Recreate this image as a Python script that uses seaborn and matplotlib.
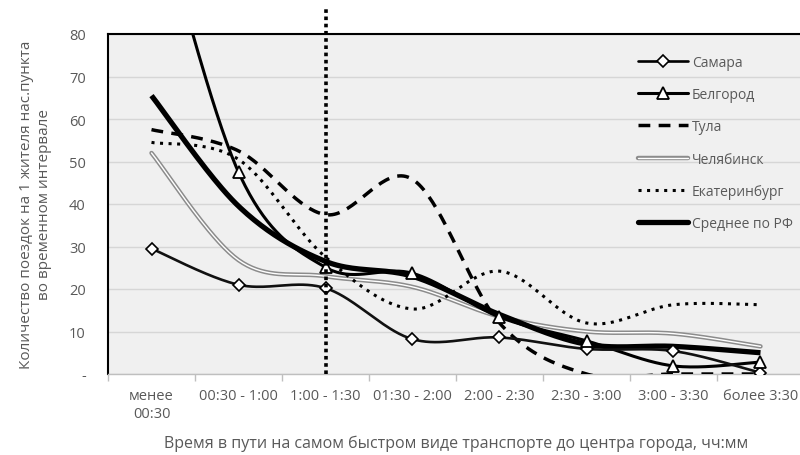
import numpy as np
import pandas as pd
import matplotlib
matplotlib.use("Agg")
import matplotlib.pyplot as plt
import matplotlib.patheffects as pe
from matplotlib.lines import Line2D
import seaborn as sns

categories = ["менее\n00:30", "00:30 - 1:00", "1:00 - 1:30", "01:30 - 2:00",
              "2:00 - 2:30", "2:30 - 3:00", "3:00 - 3:30", "более 3:30"]
samara = [29.5, 21.0, 20.2, 8.2, 8.6, 5.9, 5.4, 0.3]
belgorod = [115.0, 47.5, 25.1, 23.7, 13.4, 7.8, 1.9, 2.8]
tula = [57.5, 52.5, 37.5, 45.8, 12.0, 0.0, 0.0, 0.0]
chelyabinsk = [52.0, 26.8, 23.0, 20.5, 13.5, 10.0, 9.5, 6.5]
ekb = [54.5, 50.5, 27.5, 15.3, 24.2, 12.0, 16.3, 16.3]
mean_rf = [65.5, 39.5, 26.5, 23.0, 14.0, 7.0, 6.5, 5.0]
yticks = [0, 10, 20, 30, 40, 50, 60, 70, 80]
ytick_labels = ["-", "10", "20", "30", "40", "50", "60", "70", "80"]


def smooth(y, n=40):
    """Excel-style smoothed line (Catmull-Rom Bezier) through the points."""
    x = np.arange(len(y), dtype=float)
    P = np.column_stack([x, np.asarray(y, float)])
    xs, ys = [], []
    for i in range(len(P) - 1):
        p0 = P[i - 1] if i > 0 else P[i]
        p1, p2 = P[i], P[i + 1]
        p3 = P[i + 2] if i + 2 < len(P) else P[i + 1]
        c1 = p1 + (p2 - p0) / 6.0
        c2 = p2 - (p3 - p1) / 6.0
        t = np.linspace(0, 1, n)[:, None]
        B = ((1 - t) ** 3) * p1 + 3 * ((1 - t) ** 2) * t * c1 + 3 * (1 - t) * t ** 2 * c2 + t ** 3 * p2
        xs.append(B[:, 0]); ys.append(B[:, 1])
    return np.concatenate(xs), np.concatenate(ys)


sns.set_theme(style="white")
plt.rcParams['font.family'] = ['Open Sans', 'DejaVu Sans']
grey_txt = "#595959"

fig = plt.figure(figsize=(8, 4.56), dpi=100)
ax = fig.add_axes([108 / 800, 1 - 375 / 456, 696 / 800, 340 / 456])
ax.set_facecolor("#f0f0f0")

def draw(vals, **kw):
    xs, ys = smooth(vals)
    df = pd.DataFrame({"x": xs, "y": ys})
    sns.lineplot(data=df, x="x", y="y", ax=ax, sort=False, estimator=None, **kw)

# Челябинск (double grey line)
draw(chelyabinsk, color="white", lw=1.0,
     path_effects=[pe.Stroke(linewidth=3.2, foreground="#8c8c8c"), pe.Normal()], zorder=3)
# Тула dashed
draw(tula, color="black", lw=2.5, linestyle=(0, (3.4, 2.4)), zorder=3)
# Екатеринбург dotted
draw(ekb, color="black", lw=2.2, linestyle=(0, (1, 1.8)), zorder=3)
# Среднее по РФ
draw(mean_rf, color="black", lw=3.8, zorder=4, solid_capstyle="butt")
# Белгород
draw(belgorod, color="black", lw=2.2, zorder=5)
# Самара
draw(samara, color="#111111", lw=1.9, zorder=5)

xc = np.arange(len(categories))
ax.plot(xc, samara, linestyle="none", marker="D", markersize=6.5, markerfacecolor="white",
        markeredgecolor="black", markeredgewidth=1.2, zorder=6)
ax.plot(xc, belgorod, linestyle="none", marker="^", markersize=8.5, markerfacecolor="white",
        markeredgecolor="black", markeredgewidth=1.3, zorder=6)

# vertical dotted marker line
ax.axvline(2, ymin=0, ymax=(375 - 8) / 340, color="black", lw=2.6,
           linestyle=(0, (1, 1)), clip_on=False, zorder=7)

ax.set_xlim(-0.5, 7.5)
ax.set_ylim(0, 80)
ax.set_yticks(yticks)
ax.set_yticklabels(ytick_labels)
ax.set_xticks(xc)
ax.set_xticklabels(categories)
ax.set_xticks(np.arange(-0.5, 8, 1), minor=True)
ax.grid(axis="y", color="#d6d6d6", lw=1.0)
ax.set_axisbelow(True)
ax.tick_params(axis="y", length=0, pad=16, labelsize=10.5, labelcolor=grey_txt)
ax.tick_params(axis="x", which="major", length=0, pad=10, labelsize=10.5, labelcolor=grey_txt)
ax.tick_params(axis="x", which="minor", length=5, width=1, color="#bfbfbf", bottom=True)
for lbl in ax.get_xticklabels():
    lbl.set_linespacing(1.25)

for s in ["left", "top"]:
    ax.spines[s].set_color("black"); ax.spines[s].set_linewidth(1.5)
ax.spines["bottom"].set_color("#bfbfbf"); ax.spines["bottom"].set_linewidth(1)
ax.spines["right"].set_visible(False)

ax.set_xlabel("Время в пути на самом быстром виде транспорте до центра города, чч:мм",
              fontsize=11.5, color=grey_txt, labelpad=10)
ax.set_ylabel("Количество поездок на 1 жителя нас.пункта\nво временном интервале",
              fontsize=11, color=grey_txt, labelpad=12, linespacing=1.25)

handles = [
    Line2D([], [], color="black", lw=1.9, marker="D", markersize=6.5, markerfacecolor="white",
           markeredgecolor="black", markeredgewidth=1.2),
    Line2D([], [], color="black", lw=2.2, marker="^", markersize=8.5, markerfacecolor="white",
           markeredgecolor="black", markeredgewidth=1.3),
    Line2D([], [], color="black", lw=2.5, linestyle=(0, (3.4, 2.4))),
    Line2D([], [], color="white", lw=1.0,
           path_effects=[pe.Stroke(linewidth=3.2, foreground="#8c8c8c"), pe.Normal()]),
    Line2D([], [], color="black", lw=2.2, linestyle=(0, (1, 1.8))),
    Line2D([], [], color="black", lw=3.8),
]
labels = ["Самара", "Белгород", "Тула", "Челябинск", "Екатеринбург", "Среднее по РФ"]
leg = ax.legend(handles, labels, loc="upper left", bbox_to_anchor=(625 / 800, 1 - 43 / 456),
                bbox_transform=fig.transFigure, frameon=False, fontsize=10,
                handlelength=3.6, handletextpad=0.3, labelspacing=1.25, labelcolor=grey_txt)

fig.savefig("out.png", dpi=100)
